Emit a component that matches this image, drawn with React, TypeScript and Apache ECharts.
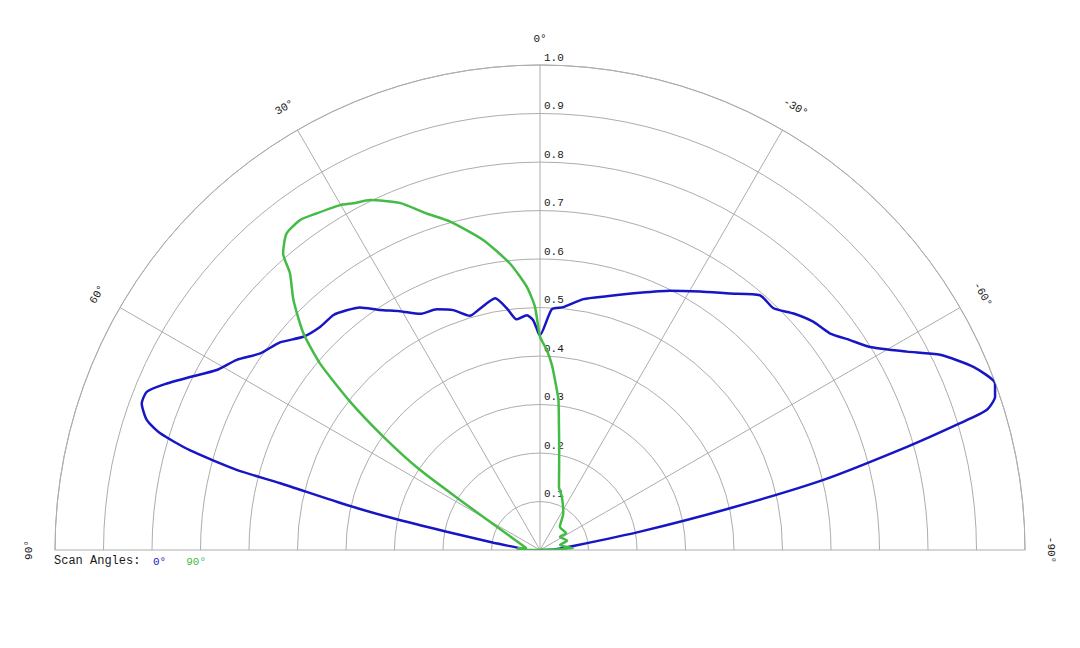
import React, { useEffect, useRef } from "react";
import * as echarts from "echarts";

// Radial tick values (normalized amplitude) and angle ticks (degrees)
const radialTicks = [0.1, 0.2, 0.3, 0.4, 0.5, 0.6, 0.7, 0.8, 0.9, 1.0];
const angleTicks = [-90, -60, -30, 0, 30, 60, 90];
const seriesNames = ["0°", "90°"];
const legendTitle = "Scan Angles:";

// Scan angle 0° (blue): angle in degrees (0 = top, + = left), radius
const blueAngles = [
  90, 85, 81.1, 78.9, 77.9, 76.9, 75.6, 75.2, 74.1, 72.9, 71.7, 69.8, 68.1, 66.3,
  63.7, 60.9, 57.9, 54.9, 51.4, 48.0, 44.6, 41.3, 38.9, 36.6, 33.7, 30.4, 26.9,
  23.2, 19.9, 16.7, 13.9, 10.1, 7.8, 5.8, 3.2, 1.7, 0.4, 0, -2.8, -5.5, -9.8,
  -14.7, -21.2, -26.6, -31.8, -36.5, -40.8, -44.0, -47.0, -50.1, -53.2, -55.9,
  -58.4, -61.6, -64.0, -67.1, -69.9, -71.4, -72.6, -73.2, -74.3, -76.1, -77.6,
  -79.6, -83.2, -88, -90,
];
const blueRadii = [
  0.027, 0.041, 0.097, 0.196, 0.302, 0.409, 0.553, 0.647, 0.751, 0.82, 0.854, 0.875,
  0.874, 0.848, 0.805, 0.763, 0.738, 0.705, 0.686, 0.657, 0.646, 0.645, 0.635,
  0.623, 0.595, 0.571, 0.546, 0.54, 0.526, 0.504, 0.513, 0.527, 0.503, 0.478,
  0.485, 0.474, 0.447, 0.443, 0.497, 0.503, 0.525, 0.541, 0.569, 0.598, 0.627,
  0.658, 0.694, 0.693, 0.715, 0.734, 0.746, 0.772, 0.799, 0.86, 0.918, 0.97,
  0.999, 0.99, 0.965, 0.905, 0.786, 0.602, 0.401, 0.21, 0.069, 0.03, 0,
];

// Scan angle 90° (green)
const greenAngles = [
  90, 90, 85.6, 83, 61.7, 58, 56.3, 54.1, 52, 49.7, 47.5, 44.6, 42.1, 40.9, 38.7,
  36, 33.6, 30.1, 28.3, 25.9, 22, 18.6, 15.3, 10.4, 6, 2.9, 1.2, 0, -1.9, -3.7,
  -5.5, -7.0, -8.6, -10.7, -13.4, -16.7, -22.2, -32.4, -40.6, -57.3, -56.4, -71,
  -76, -87, -90,
];
const greenRadii = [
  0, 0.045, 0.046, 0.028, 0.101, 0.194, 0.297, 0.399, 0.497, 0.595, 0.662, 0.724,
  0.769, 0.809, 0.836, 0.841, 0.833, 0.822, 0.812, 0.802, 0.772, 0.732, 0.702,
  0.65, 0.594, 0.544, 0.502, 0.44, 0.413, 0.382, 0.342, 0.312, 0.261, 0.213, 0.17,
  0.136, 0.119, 0.0896, 0.063, 0.064, 0.0495, 0.059, 0.0425, 0.068, 0,
];

const BLUE = "#1616c4";
const GREEN = "#44bb44";
const GRID = "#adadad";
const TEXT = "#1a1a1a";
const FONT = '"Courier New", "Liberation Mono", monospace';

export default function App() {
  const ref = useRef<HTMLDivElement>(null);

  useEffect(() => {
    if (!ref.current) return;
    const chart = echarts.init(ref.current, null, { renderer: "svg" });
    const bluePairs = blueAngles.map((a, i) => [blueRadii[i], a]);
    const greenPairs = greenAngles.map((a, i) => [greenRadii[i], a]);

    chart.setOption({
      animation: false,
      backgroundColor: "#ffffff",
      title: {
        text: legendTitle,
        left: 54,
        top: 555,
        padding: 0,
        textStyle: { fontFamily: FONT, fontSize: 12, fontWeight: "normal", color: TEXT },
      },
      legend: {
        left: 148,
        top: 556,
        padding: 0,
        icon: "none",
        itemWidth: 0,
        itemHeight: 10,
        itemGap: 15,
        selectedMode: false,
        textStyle: { fontFamily: FONT, fontSize: 11 },
        data: [
          { name: seriesNames[0], textStyle: { color: BLUE } },
          { name: seriesNames[1], textStyle: { color: GREEN } },
        ],
      },
      polar: { center: [540, 550], radius: 485 },
      angleAxis: {
        type: "value",
        min: -90,
        max: 90,
        interval: 30,
        startAngle: 0,
        endAngle: 180,
        clockwise: false,
        axisLine: { show: true, lineStyle: { color: GRID, width: 1 } },
        axisTick: { show: false },
        axisLabel: { show: false },
        splitLine: { show: true, lineStyle: { color: GRID, width: 1 } },
      },
      radiusAxis: {
        type: "value",
        min: 0,
        max: 1,
        interval: 0.1,
        axisLine: { show: false },
        axisTick: { show: false },
        axisLabel: { show: false },
        splitLine: { show: true, lineStyle: { color: GRID, width: 1 } },
      },
      series: [
        {
          type: "line",
          name: seriesNames[0],
          coordinateSystem: "polar",
          data: bluePairs,
          showSymbol: false,
          symbol: "none",
          smooth: 0.2,
          lineStyle: { color: BLUE, width: 2.5 },
          itemStyle: { color: BLUE },
        },
        {
          type: "line",
          name: seriesNames[1],
          coordinateSystem: "polar",
          data: greenPairs,
          showSymbol: false,
          symbol: "none",
          smooth: 0.2,
          lineStyle: { color: GREEN, width: 2.5 },
          itemStyle: { color: GREEN },
        },
      ],
    });

    const toPx = (r: number, a: number): number[] => {
      const p = chart.convertToPixel({ seriesIndex: 0 }, [r, a]) as any;
      if (p && isFinite(p[0])) return p;
      const rad = (a * Math.PI) / 180;
      return [540 - 485 * r * Math.sin(rad), 550 - 485 * r * Math.cos(rad)];
    };

    const graphics: any[] = [];
    radialTicks.forEach((v) => {
      const p = toPx(v, 0);
      graphics.push({
        type: "text",
        x: p[0] + 4,
        y: p[1] - 2,
        style: {
          text: v.toFixed(1),
          fill: TEXT,
          font: `11px ${FONT}`,
          align: "left",
          verticalAlign: "bottom",
        },
      });
    });
    const c = toPx(0, 0);
    angleTicks.forEach((a) => {
      const p = toPx(1, a);
      const dx = p[0] - c[0];
      const dy = p[1] - c[1];
      const len = Math.sqrt(dx * dx + dy * dy) || 1;
      const off = 26;
      graphics.push({
        type: "text",
        x: p[0] + (dx / len) * off,
        y: p[1] + (dy / len) * off,
        rotation: (a * Math.PI) / 180,
        style: {
          text: `${a}°`,
          fill: TEXT,
          font: `11px ${FONT}`,
          align: "center",
          verticalAlign: "middle",
        },
      });
    });
    chart.setOption({ graphic: graphics });

    return () => chart.dispose();
  }, []);

  return (
    <div
      ref={ref}
      style={{ position: "fixed", left: 0, top: 0, width: 1080, height: 648, background: "#fff" }}
    />
  );
}
